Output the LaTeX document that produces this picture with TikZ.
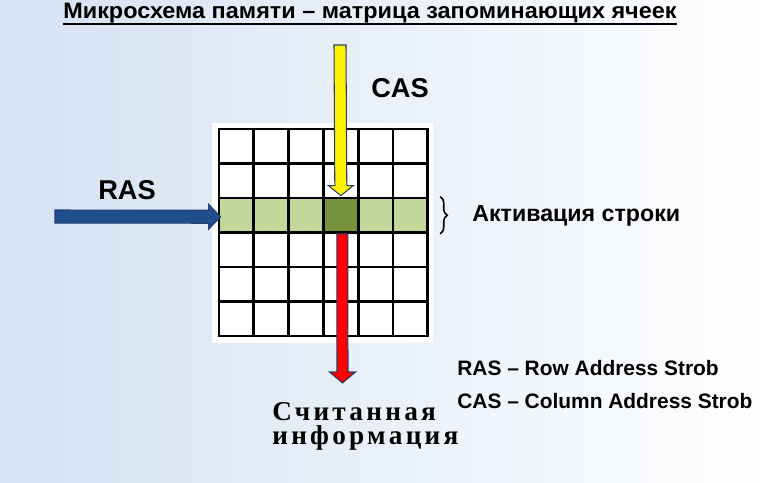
\documentclass[tikz,border=0pt]{standalone}
\usepackage{fontspec}
\setmainfont{Liberation Sans}
\newfontfamily\titlefont[FakeStretch=1.05]{Liberation Sans}
\newfontfamily\readfont[LetterSpace=12]{Liberation Serif}
\usetikzlibrary{calc,decorations.pathreplacing}
\definecolor{bgblue}{HTML}{D5E2F3}
\definecolor{bgmid}{HTML}{E6EEF9}
\definecolor{rowgreen}{HTML}{C4D79B}
\definecolor{cellolive}{HTML}{76923C}
\definecolor{rasblue}{HTML}{1F4E8C}
\definecolor{edgeblue}{HTML}{243F70}
\tikzset{
  cell/.style={draw=black,line width=1.6pt,fill=white,minimum width=0.696cm,minimum height=0.69cm,inner sep=0pt},
  label/.style={font=\bfseries\fontsize{15.5}{18}\selectfont,inner sep=0pt},
  legend/.style={font=\bfseries\fontsize{11.9}{14}\selectfont,inner sep=0pt,anchor=west},
  blockarrow/.style={draw=edgeblue,line width=0.6pt,line join=miter}
}
\begin{document}
\begin{tikzpicture}[x=0.02cm,y=-0.02cm]
    \useasboundingbox (0,0) rectangle (774,483);
    \shade[left color=bgblue,middle color=bgmid,right color=white] (0,0) rectangle (774,483);
    % Titel
    \node[inner sep=0pt,anchor=base west] (title) at (63,19) {\titlefont\bfseries\fontsize{12.7}{15}\selectfont Микросхема памяти – матрица запоминающих ячеек};
    \draw[line width=1.1pt] (title.base west)+(0,5) -- ($(title.base east)+(0,5)$);
    % Matriz
    \fill[white] (212,123) rectangle (433,343);
    \foreach \r in {1,...,6}
      \foreach \c in {1,...,6}
        \node[cell] (c\r\c) at ({219+34.8*(\c-0.5)},{129+34.5*(\r-0.5)}) {};
    \foreach \c in {1,2,3,5,6}
      \node[cell,fill=rowgreen] at (c3\c) {};
    \node[cell,fill=cellolive] (sel) at (c34) {};
    % CAS
    \coordinate (casTop) at (340,45);
    \draw[blockarrow,fill=yellow] ($(casTop)+(-6,0)$) -- ($(casTop)+(6,0)$) -- ($(sel.north)+(6,-11)$)
      -- ($(sel.north)+(12.5,-11)$) -- ($(sel.north)+(0,-1)$) -- ($(sel.north)+(-12.5,-11)$)
      -- ($(sel.north)+(-6,-11)$) -- cycle;
    \node[label] (cas) at (400,88) {CAS};
    % RAS
    \coordinate (rasStart) at (55,216.5);
    \draw[blockarrow,fill=rasblue] ($(rasStart)+(0,-6.5)$) -- ($(c31.west)+(-9,-6.5)+(0,1.5)$)
      -- ($(c31.west)+(-9,-11)$) -- ($(c31.west)+(3,1.5)$) -- ($(c31.west)+(-9,14)$)
      -- ($(c31.west)+(-9,8)$) -- ($(rasStart)+(0,6.5)$) -- cycle;
    \node[label] (ras) at (127,190) {RAS};
    % Ausgabe
    \coordinate (outTip) at (342.5,383);
    \draw[blockarrow,fill=red] ($(sel.south)+(-4,0)$) -- ($(sel.south)+(7,0)$) -- ($(outTip)+(5.5,-11)$)
      -- ($(outTip)+(13,-11)$) -- (outTip) -- ($(outTip)+(-13,-11)$) -- ($(outTip)+(-5.5,-11)$) -- cycle;
    \node[inner sep=0pt,anchor=north west,align=left,font=\readfont\bfseries\fontsize{15.5}{13.6}\selectfont] (read) at (272,402)
      {Считанная\\информация};
    % Zeile
    \draw[line width=0.9pt,decorate,decoration={brace,amplitude=4pt}] ($(c36.north east)+(11,0)$) -- ($(c36.south east)+(11,0)$);
    \node[label,anchor=west,font=\bfseries\fontsize{13.2}{16}\selectfont] (act) at (472,216) {Активация строки};
    % Legende
    \node[legend] (leg1) at (457,368) {RAS – Row Address Strob};
    \node[legend] (leg2) at (457,401) {CAS – Column Address Strob};
\end{tikzpicture}
\end{document}
